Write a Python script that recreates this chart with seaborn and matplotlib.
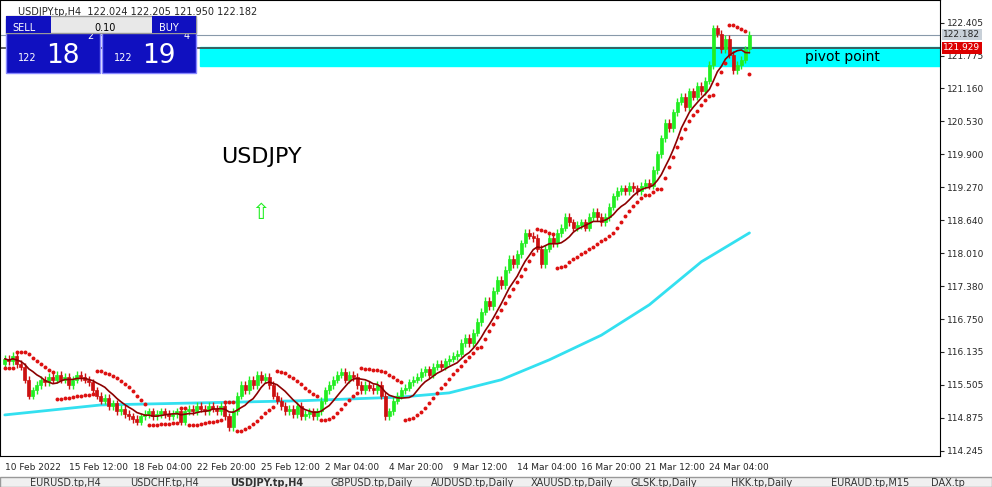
import numpy as np
import pandas as pd
import matplotlib
matplotlib.use("Agg")
import matplotlib.pyplot as plt
import seaborn as sns
from matplotlib.patches import Rectangle

# H4 closes
closes = [
    116.0, 115.95, 116.05, 115.9, 115.85,
    115.6, 115.3, 115.4, 115.5, 115.6,
    115.55, 115.65, 115.6, 115.7, 115.6, 115.65, 115.5, 115.6, 115.7, 115.65, 115.6, 115.55,
    115.4, 115.3, 115.2, 115.25, 115.1, 115.15, 115.0, 115.05, 114.95, 114.9,
    114.85, 114.8, 114.9, 114.95, 115.0, 114.9, 114.95, 115.0, 114.95, 114.9, 114.95, 115.0, 114.8,
    115.0, 115.05, 115.0, 115.1, 115.05, 115.0, 115.1, 115.05, 115.0, 115.1, 114.9, 114.7,
    115.0, 115.3, 115.5, 115.4, 115.6, 115.5, 115.7, 115.6, 115.65, 115.5,
    115.3, 115.2, 115.1, 115.0, 115.05, 114.95, 115.1, 114.9, 114.95, 115.0, 114.9, 115.0,
    115.2, 115.4, 115.5, 115.6, 115.7, 115.75, 115.6, 115.7, 115.65, 115.5,
    115.4, 115.5, 115.45, 115.4, 115.5, 115.3, 114.9,
    115.0, 115.2, 115.3, 115.4, 115.45, 115.55, 115.6, 115.65,
    115.75, 115.8, 115.7, 115.85, 115.9, 115.85, 115.95, 116.0, 116.05, 116.1,
    116.3, 116.4, 116.3, 116.5, 116.7, 116.9, 117.1, 117.0,
    117.3, 117.5, 117.4, 117.7, 117.9, 117.8, 118.0, 118.2, 118.4, 118.35, 118.3, 118.1,
    117.8, 118.1, 118.3, 118.2, 118.4, 118.5, 118.7, 118.6, 118.5,
    118.55, 118.6, 118.5, 118.7, 118.8, 118.7, 118.6, 118.7,
    118.9, 119.1, 119.2, 119.25, 119.2, 119.3, 119.25, 119.2, 119.3, 119.35, 119.3,
    119.6, 119.9, 120.2, 120.5, 120.4, 120.7, 120.9, 121.0,
    120.8, 121.1, 121.0, 121.2, 121.1, 121.3,
    121.6, 122.3, 122.2, 121.9, 122.1, 121.8, 121.5, 121.6, 121.7, 121.9, 122.182,
]
first_open = 115.9
wick = 0.07

# slow moving average (cyan), sampled at bar indices
slow_ma_idx = [0, 24, 49, 74, 99, 111, 124, 136, 149, 161, 174, 186]
slow_ma_val = [114.93, 115.12, 115.16, 115.2, 115.27, 115.35, 115.6, 115.98, 116.45, 117.03, 117.85, 118.4]

date_labels = ["10 Feb 2022", "15 Feb 12:00", "18 Feb 04:00", "22 Feb 20:00", "25 Feb 12:00",
               "2 Mar 04:00", "4 Mar 20:00", "9 Mar 12:00", "14 Mar 04:00", "16 Mar 20:00",
               "21 Mar 12:00", "24 Mar 04:00"]
price_ticks = [122.405, 121.775, 121.160, 120.530, 119.900, 119.270, 118.640,
               118.010, 117.380, 116.750, 116.135, 115.505, 114.875, 114.245]
tabs = ["EURUSD.tp,H4", "USDCHF.tp,H4", "USDJPY.tp,H4", "GBPUSD.tp,Daily", "AUDUSD.tp,Daily",
        "XAUUSD.tp,Daily", "GLSK.tp,Daily", "HKK.tp,Daily", "EURAUD.tp,M15", "DAX.tp"]


def parabolic_sar(high, low, step=0.02, amax=0.2):
    n = len(high)
    sar = np.zeros(n)
    up = True
    af = step
    ep = high[0]
    sar[0] = low[0]
    for i in range(1, n):
        s = sar[i - 1] + af * (ep - sar[i - 1])
        if up:
            s = min(s, low[i - 1], low[max(i - 2, 0)])
            if low[i] < s:
                up, s, ep, af = False, ep, low[i], step
            elif high[i] > ep:
                ep, af = high[i], min(af + step, amax)
        else:
            s = max(s, high[i - 1], high[max(i - 2, 0)])
            if high[i] > s:
                up, s, ep, af = True, ep, high[i], step
            elif low[i] < ep:
                ep, af = low[i], min(af + step, amax)
        sar[i] = s
    return sar


df = pd.DataFrame({"close": closes})
df["open"] = df["close"].shift(1).fillna(first_open)
df["high"] = df[["open", "close"]].max(axis=1) + wick
df["low"] = df[["open", "close"]].min(axis=1) - wick
df["ma"] = df["close"].rolling(8, min_periods=1).mean()
df["sar"] = parabolic_sar(df["high"].values, df["low"].values)
x = np.arange(len(df))

sns.set_style("white")
plt.rcParams["font.family"] = ["DejaVu Sans"]
fig = plt.figure(figsize=(9.92, 4.87), dpi=100)
ax = fig.add_axes([0.0, 0.064, 0.948, 0.936])
ax.set_xlim(-1.2, 233.7)
ax.set_ylim(114.15, 122.84)

# pivot zone
ax.axhspan(121.58, 121.94, xmin=(48.8 + 1.2) / 234.9, xmax=1, color="#00ffff", zorder=1)
ax.text(200, 121.76, "pivot point", fontsize=10, va="center", ha="left", color="#000000")
ax.axhline(121.929, color="#444444", lw=1.2, zorder=2)
ax.axhline(122.182, color="#8899aa", lw=0.8, zorder=2)

ax.plot(slow_ma_idx, slow_ma_val, color="#33e0f0", lw=2, zorder=3)

up = (df["close"] >= df["open"]).values
for mask, col in [(up, "#22ee22"), (~up, "#cc1111")]:
    d = df[mask]
    xi = x[mask]
    lo = np.minimum(d["open"].values, d["close"].values)
    h = np.maximum(np.abs(d["close"].values - d["open"].values), 0.015)
    ax.vlines(xi, d["low"].values, d["high"].values, color=col, lw=1.0, zorder=4)
    ax.bar(xi, h, bottom=lo, width=0.75, color=col, edgecolor=col, linewidth=0.5, zorder=4)

ax.plot(x, df["ma"].values, color="#8b0000", lw=1.2, zorder=5)
sns.scatterplot(x=x, y=df["sar"].values, ax=ax, color="#dd1111", s=8, linewidth=0, zorder=6)

ax.yaxis.tick_right()
ax.set_yticks(price_ticks)
ax.set_yticklabels([f"{t:.3f}" for t in price_ticks], fontsize=6.5)
ax.set_xticks(np.arange(len(date_labels)) * 16)
ax.set_xticklabels(date_labels, fontsize=6.5, ha="left")
ax.tick_params(length=3, pad=2)
ax.set_ylabel("")
for s in ax.spines.values():
    s.set_color("#000000")
    s.set_linewidth(0.8)

# price labels on the right
ax.text(1.003, (122.182 - 114.15) / 8.69, "122.182", transform=ax.transAxes, fontsize=6.5,
        va="center", ha="left", bbox=dict(boxstyle="square,pad=0.15", fc="#c8d0d8", ec="none"))
ax.text(1.003, (121.929 - 114.15) / 8.69, "121.929", transform=ax.transAxes, fontsize=6.5,
        color="white", va="center", ha="left", bbox=dict(boxstyle="square,pad=0.15", fc="#dd0000", ec="none"))

ax.text(54, 119.85, "USDJPY", fontsize=16, color="black", va="center")
ax.text(64, 118.78, "\u21e7", fontsize=16, color="#22ee22", ha="center", va="center")

# header and trade panel
fig.text(0.018, 0.985, "USDJPY.tp,H4  122.024 122.205 121.950 122.182", fontsize=7, va="top")
for x0, lbl, big in [(0.006, "SELL", "18"), (0.103, "BUY", "19")]:
    fig.patches.append(Rectangle((x0, 0.85), 0.095, 0.11, transform=fig.transFigure,
                                 fc="#1010c0", ec="#8888ff", zorder=10))
    fig.text(x0 + 0.012, 0.875, "122", color="white", fontsize=7, zorder=11)
    fig.text(x0 + 0.04, 0.87, big, color="white", fontsize=19, zorder=11)
    fig.text(x0 + 0.082, 0.92, "2" if lbl == "SELL" else "4", color="white", fontsize=7, zorder=11)
fig.patches.append(Rectangle((0.006, 0.932), 0.192, 0.035, transform=fig.transFigure,
                             fc="#e8e8e8", ec="#999999", zorder=12))
fig.patches.append(Rectangle((0.006, 0.932), 0.045, 0.035, transform=fig.transFigure,
                             fc="#1010c0", ec="none", zorder=13))
fig.patches.append(Rectangle((0.153, 0.932), 0.045, 0.035, transform=fig.transFigure,
                             fc="#1010c0", ec="none", zorder=13))
fig.text(0.012, 0.937, "SELL", color="white", fontsize=7, zorder=14)
fig.text(0.16, 0.937, "BUY", color="white", fontsize=7, zorder=14)
fig.text(0.095, 0.937, "0.10", color="black", fontsize=7, zorder=14)

# tab bar
fig.patches.append(Rectangle((0, 0), 1, 0.02, transform=fig.transFigure, fc="#f0f0f0", ec="#999999"))
for i, t in enumerate(tabs):
    fig.text(0.03 + i * 0.101, 0.002, t, fontsize=7, color="#333333",
             weight="bold" if i == 2 else "normal")

fig.savefig("out.png", dpi=100)
